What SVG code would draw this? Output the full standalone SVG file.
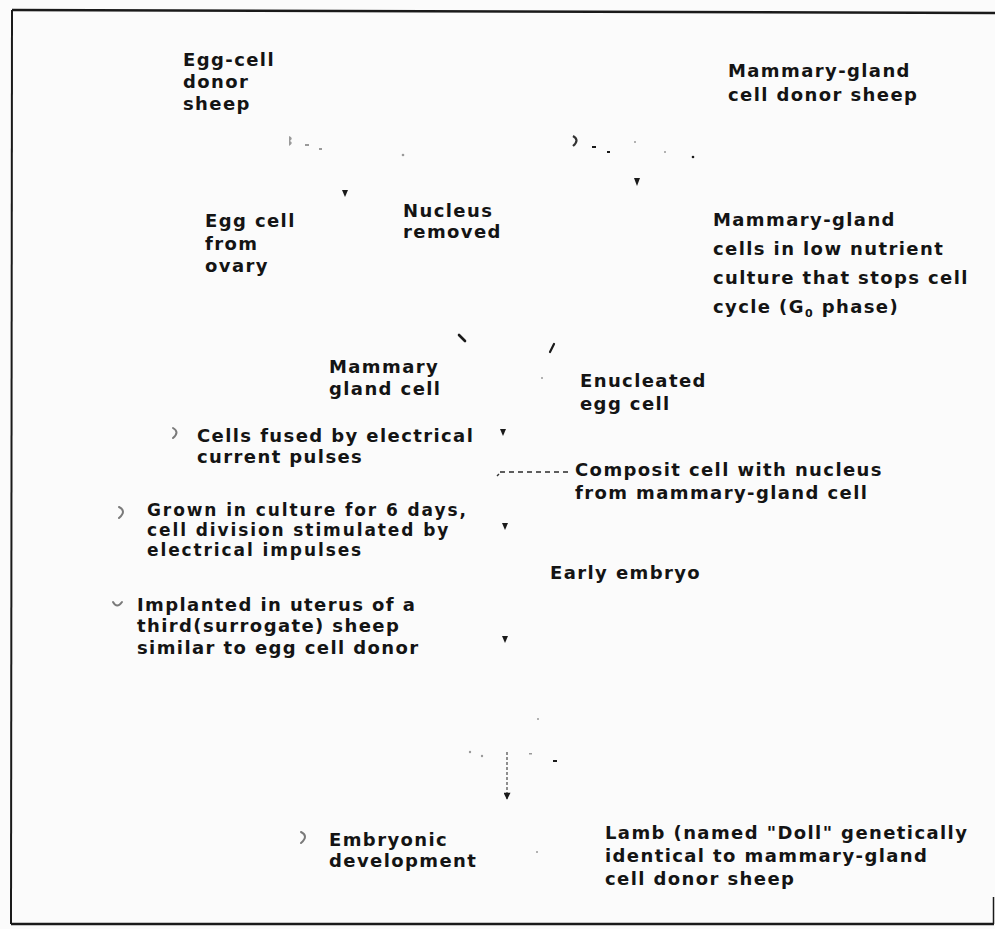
<svg xmlns="http://www.w3.org/2000/svg" width="995" height="929" viewBox="0 0 995 929">
<defs>
<style>
.t{font-family:"DejaVu Sans","Liberation Sans",sans-serif;font-weight:bold;font-size:18px;letter-spacing:1.4px;fill:#141414}
.s{font-size:17px;letter-spacing:1.9px}
.frame{stroke:#1a1a1a;fill:none}
.tick{fill:#1a1a1a}
.faint{fill:#9a9a9a}
.icon{fill:none;stroke:#7a7a7a;stroke-width:2;stroke-linecap:round}
.dash{stroke:#2a2a2a;stroke-width:1.6;fill:none;stroke-dasharray:5 4}
</style>
<marker id="ah" viewBox="0 0 10 10" refX="9" refY="5" markerWidth="8" markerHeight="7" orient="auto" markerUnits="userSpaceOnUse">
<path d="M0,0 L10,5 L0,10 Z" fill="#1a1a1a"/>
</marker>
</defs>
<rect x="0" y="0" width="995" height="929" fill="#fbfbfb"/>
<g id="frame">
<line class="frame" x1="12" y1="10" x2="995" y2="13" stroke-width="2.5"/>
<line class="frame" x1="12" y1="10" x2="11" y2="924" stroke-width="2"/>
<line class="frame" x1="11" y1="924" x2="994" y2="924" stroke-width="2.5"/>
<line class="frame" x1="993.5" y1="897" x2="993.5" y2="924" stroke-width="1.5"/>
</g>
<g id="connectors">
<path class="faint" d="M289,136 q5,2 1,5 q4,2 -1,5 Z"/>
<rect class="faint" x="305" y="144" width="4" height="2"/>
<rect class="faint" x="319" y="148" width="3" height="2"/>
<circle class="faint" cx="403" cy="155" r="1.3"/>
<path class="tick" d="M342,190 L348,190 L345,197 Z"/>
<path d="M573,136 q7,4 0,10" stroke="#333" stroke-width="2.2" fill="none"/>
<rect class="tick" x="592" y="146" width="4" height="2"/>
<rect class="tick" x="607" y="151" width="3" height="2"/>
<circle class="faint" cx="635" cy="142" r="1"/>
<circle class="faint" cx="665" cy="152" r="1"/>
<circle class="tick" cx="693" cy="157" r="1.3"/>
<path class="tick" d="M634,178 L640,178 L637,186 Z"/>
<path d="M459,335 L465,341" stroke="#1a1a1a" stroke-width="2.6" stroke-linecap="round"/>
<path d="M554,344 L550,352" stroke="#1a1a1a" stroke-width="2.2" stroke-linecap="round"/>
<circle class="faint" cx="542" cy="378" r="1"/>
<path class="tick" d="M500,429 L506,429 L503,436 Z"/>
<path d="M499,474 L497,476" stroke="#333" stroke-width="1.5"/>
<line class="dash" x1="500" y1="472" x2="570" y2="472"/>
<path class="tick" d="M502,523 L508,523 L505,530 Z"/>
<path class="tick" d="M502,636 L508,636 L505,643 Z"/>
<circle class="faint" cx="538" cy="719" r="1"/>
<circle class="faint" cx="470" cy="752" r="1.2"/>
<circle class="faint" cx="482" cy="756" r="1.2"/>
<line x1="507" y1="752" x2="507" y2="799" stroke="#555" stroke-width="1.3" stroke-dasharray="3 2" marker-end="url(#ah)"/>
<rect class="faint" x="529" y="753" width="3" height="1.5"/>
<rect class="tick" x="553" y="760" width="4" height="2"/>
<circle class="faint" cx="537" cy="852" r="1"/>
</g>
<g id="egg-donor"><text class="t" x="183" y="66">Egg-cell</text><text class="t" x="183" y="88">donor</text><text class="t" x="183" y="110">sheep</text></g>
<g id="mammary-donor"><text class="t" x="728" y="77">Mammary-gland</text><text class="t" x="728" y="101">cell donor sheep</text></g>
<g id="egg-cell"><text class="t" x="205" y="227">Egg cell</text><text class="t" x="205" y="250">from</text><text class="t" x="205" y="272">ovary</text></g>
<g id="nucleus-removed"><text class="t" x="403" y="217">Nucleus</text><text class="t" x="403" y="238">removed</text></g>
<g id="mammary-culture"><text class="t" x="713" y="226">Mammary-gland</text><text class="t" x="713" y="255">cells in low nutrient</text><text class="t" x="713" y="284">culture that stops cell</text><text class="t" x="713" y="313">cycle (G<tspan font-size="11" baseline-shift="-4">0</tspan> phase)</text></g>
<g id="mammary-cell"><text class="t" x="329" y="373">Mammary</text><text class="t" x="329" y="395">gland cell</text></g>
<g id="enucleated"><text class="t" x="580" y="387">Enucleated</text><text class="t" x="580" y="410">egg cell</text></g>
<g id="fused"><path class="icon" d="M173,428 q7,4 0,10"/><text class="t" x="197" y="442">Cells fused by electrical</text><text class="t" x="197" y="463">current pulses</text></g>
<g id="composit"><text class="t" x="575" y="476">Composit cell with nucleus</text><text class="t" x="575" y="499">from mammary-gland cell</text></g>
<g id="grown"><path class="icon" d="M119,507 q8,4 0,11" stroke="#555"/><text class="t s" x="147" y="516">Grown in culture for 6 days,</text><text class="t s" x="147" y="536">cell division stimulated by</text><text class="t s" x="147" y="556">electrical impulses</text></g>
<g id="early-embryo"><text class="t" x="550" y="579">Early embryo</text></g>
<g id="implanted"><path class="icon" d="M113,602 q4,7 9,0"/><text class="t" x="137" y="611">Implanted in uterus of a</text><text class="t" x="137" y="632">third(surrogate) sheep</text><text class="t" x="137" y="654">similar to egg cell donor</text></g>
<g id="embryonic"><path class="icon" d="M301,832 q8,4 0,11" stroke="#444"/><text class="t" x="329" y="846">Embryonic</text><text class="t" x="329" y="867">development</text></g>
<g id="lamb"><text class="t" x="605" y="839">Lamb (named "Doll" genetically</text><text class="t" x="605" y="862">identical to mammary-gland</text><text class="t" x="605" y="885">cell donor sheep</text></g>
</svg>
